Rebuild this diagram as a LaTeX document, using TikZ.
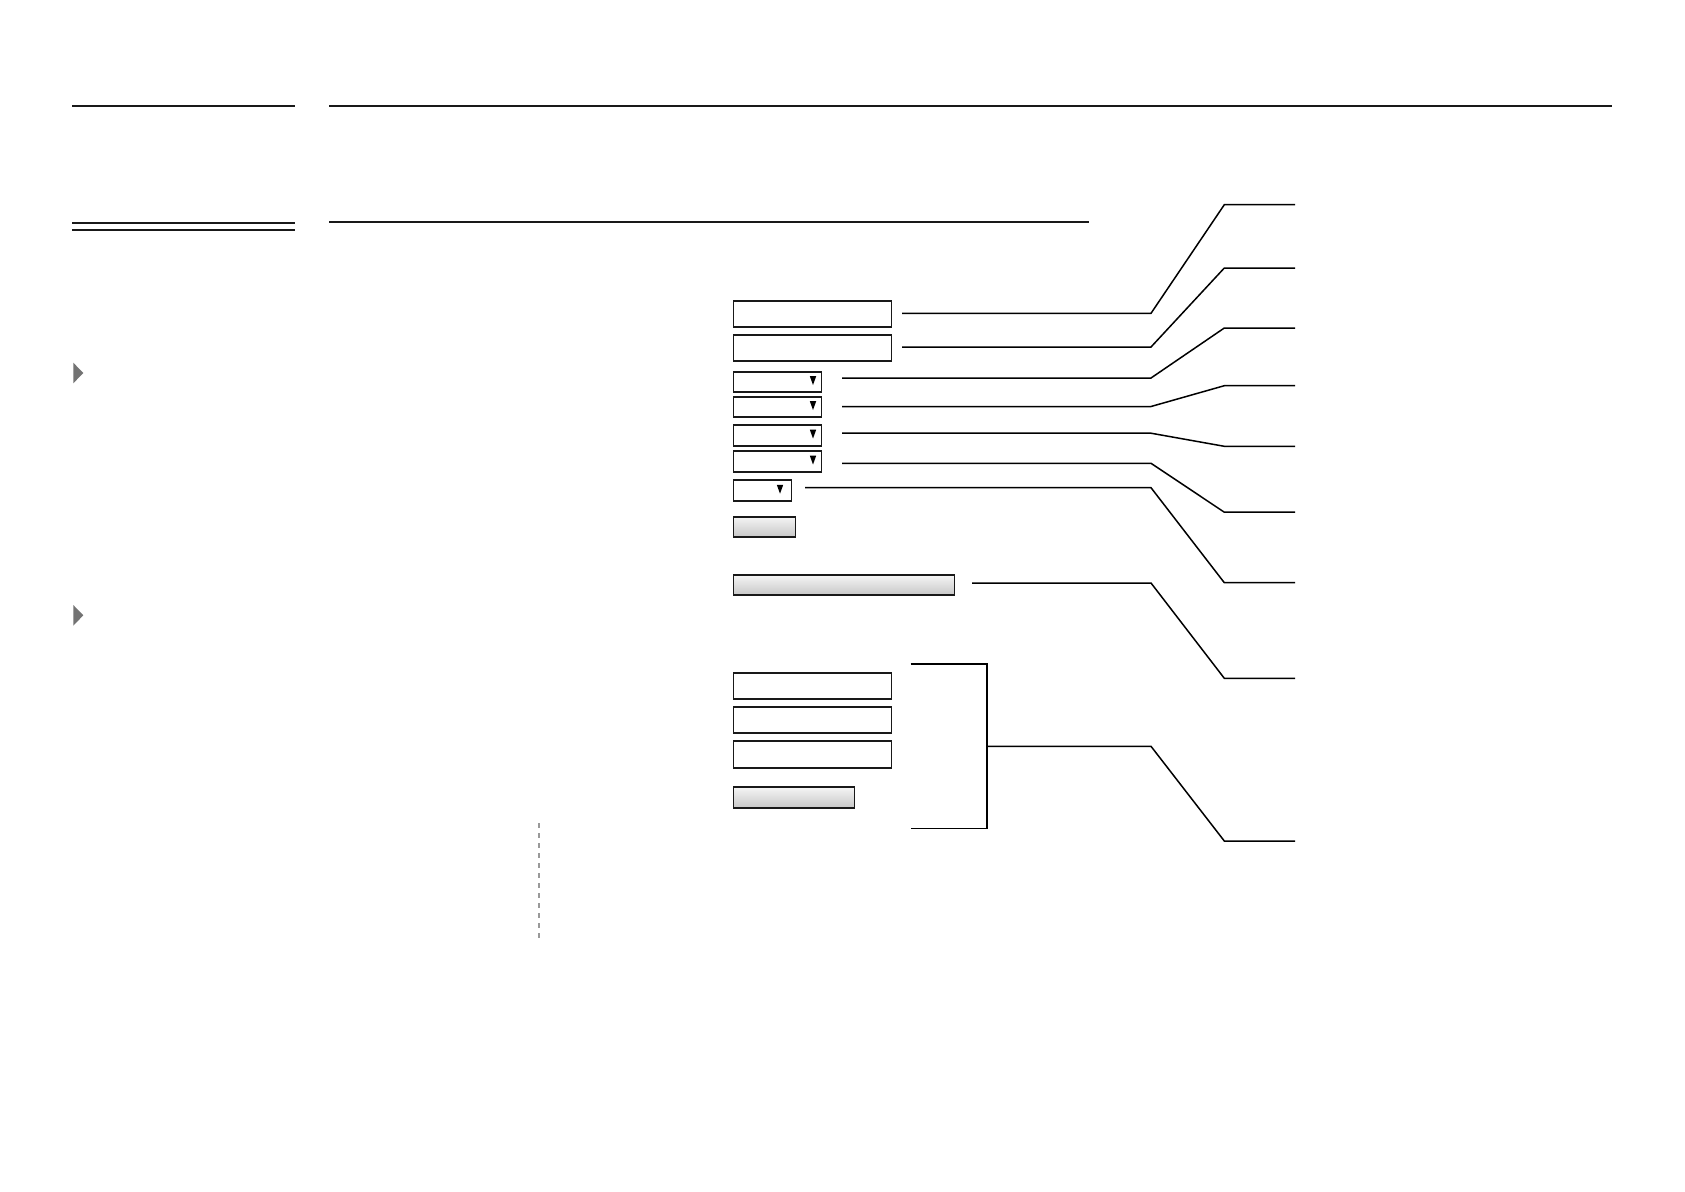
\documentclass[tikz,border=0pt]{standalone}
\usetikzlibrary{calc}
\begin{document}
\begin{tikzpicture}[x=1pt,y=-1pt,
  field/.style={draw=black!90, line width=1.9pt, fill=white, inner sep=0pt, anchor=north west},
  btn/.style={draw=black!90, line width=1.9pt, inner sep=0pt, anchor=north west, top color=white!96!black, bottom color=black!22},
  rule/.style={draw=black!90, line width=1.7pt},
  conn/.style={draw=black, line width=1.5pt},
  ddarrow/.style={fill=black},
  sidemark/.style={fill=black!55, draw=none},
  guide/.style={draw=black!40, line width=1.3pt, dash pattern=on 5pt off 5pt}]
\useasboundingbox (0,0) rectangle (1685,1191);
\fill[white] (0,0) rectangle (1685,1191);

% header rules
\coordinate (h1a) at (72,105.7); \coordinate (h1b) at (295,105.7);
\coordinate (h2a) at (329,105.7); \coordinate (h2b) at (1612,105.7);
\coordinate (h3a) at (72,222.7); \coordinate (h3b) at (295,222.7);
\coordinate (h4a) at (72,229.7); \coordinate (h4b) at (295,229.7);
\coordinate (h5a) at (329,221.7); \coordinate (h5b) at (1089,221.7);
\draw[rule] (h1a) -- (h1b);
\draw[rule] (h2a) -- (h2b);
\draw[rule] (h3a) -- (h3b);
\draw[rule] (h4a) -- (h4b);
\draw[rule] (h5a) -- (h5b);

% side markers
\fill[sidemark] (73.3,362.7) -- (83.3,373) -- (73.3,383.3) -- cycle;
\fill[sidemark] (73.3,605) -- (83.3,615.3) -- (73.3,625.7) -- cycle;

% dashed guide
\coordinate (g1) at (539,823); \coordinate (g2) at (539,939);
\draw[guide] (g1) -- (g2);

% form fields
\node[field, minimum width=158pt, minimum height=26pt] (t1) at (732.5,299.8) {};
\node[field, minimum width=158pt, minimum height=26pt] (t2) at (732.5,334.2) {};
\node[field, minimum width=88pt, minimum height=20.5pt] (d1) at (732.5,370.8) {};
\node[field, minimum width=88pt, minimum height=20.5pt] (d2) at (732.5,395.8) {};
\node[field, minimum width=88pt, minimum height=21.5pt] (d3) at (732.5,423.8) {};
\node[field, minimum width=88pt, minimum height=21.5pt] (d4) at (732.5,449.8) {};
\node[field, minimum width=58pt, minimum height=21pt] (d5) at (732.5,479.2) {};
\node[btn, minimum width=62pt, minimum height=20pt] (b1) at (732.5,515.8) {};
\node[btn, minimum width=221pt, minimum height=20pt] (b2) at (732.5,574.2) {};
\node[field, minimum width=158pt, minimum height=26pt] (t3) at (732.5,672.2) {};
\node[field, minimum width=158pt, minimum height=26pt] (t4) at (732.5,706.2) {};
\node[field, minimum width=158pt, minimum height=27pt] (t5) at (732.5,740.2) {};
\node[btn, minimum width=121pt, minimum height=21pt] (b3) at (732.5,786.2) {};

% dropdown arrows
\foreach \n in {d1,d2,d3,d4}{
  \fill[ddarrow] ($(\n.east)+(-12.6,-5.8)$) -- ($(\n.east)+(-6.2,-5.8)$) -- ($(\n.east)+(-9.4,3)$) -- cycle;
}
\fill[ddarrow] ($(d5.east)+(-15.6,-5.8)$) -- ($(d5.east)+(-9.2,-5.8)$) -- ($(d5.east)+(-12.4,3)$) -- cycle;

% connector endpoints
\coordinate (c1) at (902,313.3);  \coordinate (e1) at (1295,204.7);
\coordinate (c2) at (902,347);    \coordinate (e2) at (1295,268);
\coordinate (c3) at (842,378);    \coordinate (e3) at (1295,328);
\coordinate (c4) at (842,406.5);  \coordinate (e4) at (1295,385.7);
\coordinate (c5) at (842,433.2);  \coordinate (e5) at (1295,446.3);
\coordinate (c6) at (842,463.3);  \coordinate (e6) at (1295,512.2);
\coordinate (c7) at (805,487.7);  \coordinate (e7) at (1295,582.7);
\coordinate (c8) at (972,583);    \coordinate (e8) at (1295,678.3);
\coordinate (bt) at (910.7,664);  \coordinate (bb) at (910.7,828.7);
\coordinate (e9) at (1295,841);

\draw[conn] (c1) -- (1151,313.3) -- (1224.3,204.7) -- (e1);
\draw[conn] (c2) -- (1151,347) -- (1224.3,268) -- (e2);
\draw[conn] (c3) -- (1151,378) -- (1224.3,328) -- (e3);
\draw[conn] (c4) -- (1151,406.5) -- (1224.3,385.7) -- (e4);
\draw[conn] (c5) -- (1151,433.2) -- (1224.3,446.3) -- (e5);
\draw[conn] (c6) -- (1151,463.3) -- (1224.3,512.2) -- (e6);
\draw[conn] (c7) -- (1151,487.7) -- (1224.3,582.7) -- (e7);
\draw[conn] (c8) -- (1151,583) -- (1224.3,678.3) -- (e8);
\draw[conn] (bt) -- (987,664) -- (987,828.7) -- (bb);
\draw[conn] (987,746.3) -- (1151,746.3) -- (1224.3,841) -- (e9);
\end{tikzpicture}
\end{document}
